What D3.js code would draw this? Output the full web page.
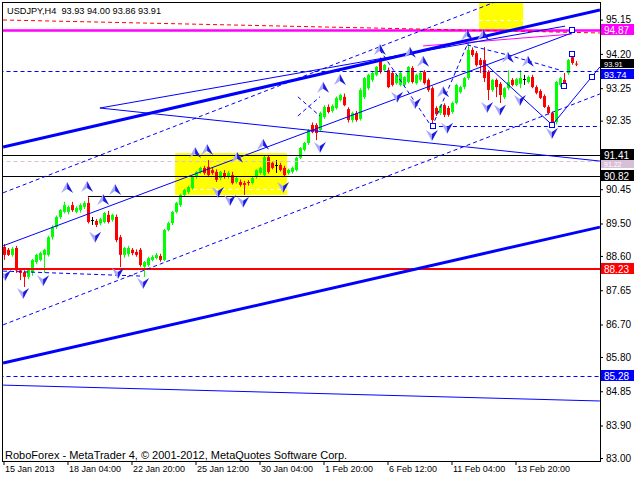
<!DOCTYPE html>
<html><head><meta charset="utf-8">
<script src="https://cdn.jsdelivr.net/npm/d3@7"></script>
<style>
body{margin:0;background:#fff;}
svg{display:block;font-family:"Liberation Sans",Arial,sans-serif;}
</style></head><body>
<svg id="c" width="640" height="480"></svg>
<script>
// ---------- DATA ----------
const titleText = "USDJPY,H4  93.93 94.00 93.86 93.91";
const copyrightText = "RoboForex - MetaTrader 4, \u00a9 2001-2012, MetaQuotes Software Corp.";
const dateLabels = ["15 Jan 2013","18 Jan 04:00","22 Jan 20:00","25 Jan 12:00","30 Jan 04:00","1 Feb 20:00","6 Feb 12:00","11 Feb 04:00","13 Feb 20:00"];
const dateTickIdx = [0,16,32,48,64,80,96,112,128];
const priceTicks = [95.15,94.20,93.25,92.35,90.45,89.50,88.60,87.65,86.70,85.80,84.85,83.90,83.00];

const opens = [88.85,88.77,88.63,88.82,88.20,88.15,88.02,88.15,88.43,88.49,88.63,88.63,89.12,89.40,89.68,89.82,89.82,90.01,89.82,89.87,
89.96,90.07,89.60,89.57,89.50,89.54,89.74,89.60,89.68,89.12,88.63,88.65,88.77,88.71,88.77,88.30,88.35,88.49,88.54,88.60,
88.49,89.32,89.51,89.82,90.01,90.29,90.37,90.48,90.79,90.93,91.04,91.07,90.98,90.93,90.76,90.90,90.79,90.84,90.65,90.65,
90.62,90.65,90.62,90.79,90.90,90.84,91.34,91.18,91.12,91.12,91.04,90.90,90.93,90.98,91.32,91.54,91.73,92.23,92.23,92.09,
92.45,92.73,92.62,92.70,92.92,93.01,92.67,92.37,92.56,92.40,93.00,93.25,93.48,93.62,94.03,93.75,93.75,93.67,93.39,93.34,
93.34,93.42,93.81,93.39,93.48,93.70,93.48,93.25,92.70,92.56,92.78,92.70,92.59,92.84,93.14,93.28,93.53,94.31,94.22,94.03,
94.03,93.70,93.20,93.48,93.37,93.00,93.25,93.48,93.34,93.37,93.50,93.42,93.56,93.28,93.17,93.03,92.73,92.56,92.31,93.34,
93.48,93.67,94.11,93.93];
const highs = [88.93,88.82,88.85,88.88,88.25,88.20,88.25,88.52,88.66,88.72,88.80,89.16,89.45,89.72,89.90,90.10,90.00,90.10,89.98,90.06,
90.12,90.23,89.68,89.62,89.66,89.82,89.85,89.77,89.75,89.18,88.85,88.88,88.82,88.78,88.82,88.46,88.58,88.62,88.68,88.66,
89.35,89.55,89.85,90.10,90.32,90.46,90.55,90.82,90.96,91.07,91.10,91.26,91.05,91.00,90.96,90.98,90.95,90.93,90.80,90.72,
90.68,90.70,90.80,91.00,91.07,91.37,91.40,91.22,91.26,91.18,91.10,91.02,91.08,91.35,91.62,91.76,92.12,92.30,92.28,92.60,
92.78,92.80,92.80,93.02,93.10,93.10,92.72,92.60,92.62,93.25,93.56,93.65,93.70,93.86,94.10,93.92,93.82,93.73,93.65,93.70,
93.58,93.86,93.86,93.65,93.72,93.75,93.52,93.30,92.75,92.80,92.83,92.76,92.88,93.37,93.32,93.56,94.50,94.38,94.28,94.09,
94.39,93.75,93.50,93.52,93.42,93.28,93.75,93.53,93.53,93.75,93.62,93.60,93.62,93.33,93.22,93.08,92.78,92.60,93.45,93.56,
93.67,94.06,94.20,94.00];
const lows = [88.49,88.60,88.58,88.13,87.93,87.74,87.95,88.05,88.38,88.45,88.13,88.58,89.05,89.35,89.62,89.78,89.75,89.82,89.78,89.80,
89.90,89.50,89.46,89.40,89.45,89.50,89.50,89.55,88.98,88.29,88.55,88.58,88.62,88.58,88.30,88.02,88.30,88.45,88.50,88.44,
88.45,89.28,89.46,89.78,89.96,90.24,90.32,90.44,90.74,90.88,90.85,90.80,90.85,90.65,90.70,90.74,90.74,90.58,90.60,90.52,
90.29,90.55,90.58,90.74,90.85,90.80,90.88,91.00,90.90,90.94,90.80,90.85,90.88,90.94,91.28,91.50,91.68,92.00,91.81,92.05,
92.40,92.55,92.57,92.66,92.88,92.75,92.30,92.30,92.32,92.35,92.95,93.20,93.42,93.58,93.65,93.70,93.25,93.30,93.35,93.30,
93.30,93.38,93.38,93.35,93.43,93.35,93.15,92.15,92.48,92.50,92.45,92.46,92.54,92.80,93.10,93.22,93.48,94.12,93.85,93.67,
93.42,92.92,93.15,93.00,92.84,92.95,93.20,93.30,93.30,93.25,93.34,93.38,93.25,93.08,92.95,92.70,92.52,92.17,92.25,93.28,
93.28,93.62,93.90,93.86];
const closes = [88.63,88.63,88.80,88.20,88.13,88.02,88.21,88.49,88.63,88.68,88.77,89.12,89.40,89.68,89.87,90.01,89.96,89.87,89.93,90.01,
90.07,89.54,89.60,89.46,89.62,89.79,89.54,89.74,89.04,88.63,88.82,88.82,88.68,88.63,88.35,88.43,88.54,88.57,88.63,88.49,
89.32,89.51,89.82,90.07,90.29,90.43,90.51,90.79,90.93,91.04,90.90,90.84,90.90,90.71,90.93,90.79,90.90,90.62,90.76,90.57,
90.57,90.62,90.76,90.98,91.04,91.34,90.93,91.04,91.12,90.98,90.84,90.98,91.04,91.32,91.59,91.73,92.09,92.03,92.01,92.56,
92.73,92.59,92.76,92.98,93.06,92.78,92.37,92.56,92.37,93.20,93.53,93.62,93.67,93.84,93.70,93.89,93.28,93.34,93.62,93.67,
93.56,93.84,93.42,93.62,93.67,93.39,93.20,92.37,92.53,92.76,92.51,92.51,92.84,93.34,93.28,93.53,94.31,94.17,93.89,93.89,
93.53,93.20,93.48,93.28,93.06,93.25,93.42,93.34,93.50,93.53,93.50,93.56,93.28,93.12,92.98,92.73,92.56,92.31,93.42,93.53,
93.39,94.03,93.95,93.91];

// horizontal levels (prices)
const magentaLevel = 94.87;
const blueDashLevels = [93.74, 85.28];
const blackLevels = [91.41, 90.82];
const blackShortLevel = {from: 21.1, price: 90.27};
const thistleLevel = 91.22;
const redLevel = 88.23;
const shortDashLevel = {from: 107.1, price: 92.20};
// trend lines: [bar0, price0, bar1, price1]
const redDashTrend = [-0.1, 95.14, 149.1, 94.78];
const thickTrends = [[-0.1, 91.62, 149.1, 95.42], [-0.1, 85.63, 149.1, 89.40]];
const thinTrends = [[24.1, 92.70, 140.4, 94.97], [24.1, 92.70, 149.1, 91.23], [-0.1, 88.88, 142.1, 94.78], [-0.1, 85.02, 149.1, 84.58],
  [119.9, 93.98, 136.9, 92.26], [137.4, 92.26, 149.1, 93.84]];
const dashTrends = [[-0.1, 90.35, 124.1, 95.69], [-0.1, 86.69, 149.1, 93.09], [-0.1, 88.18, 34.9, 88.04],
  [94.1, 94.31, 107.1, 92.17], [107.1, 92.17, 115.9, 94.45], [115.9, 94.45, 126.1, 94.17], [126.1, 94.17, 139.1, 93.75],
  [73.6, 93.01, 79.1, 92.48], [73.6, 92.48, 79.1, 93.01]];
const magentaTrend = [104.9, 94.42, 142.1, 94.75];
const yellowBoxes = [[42.9, 91.45, 70.9, 90.29], [118.9, 95.75, 129.9, 94.86]];
const whiteDashes = [[47.4, 90.46, 70.9], [118.9, 95.14, 129.9]];
const squares = [[107.4, 92.20], [137.1, 92.23], [140.1, 93.31], [142.1, 94.20], [147.1, 93.56], [142.1, 94.86]];
const upArrows = [[15.9,90.48],[20.9,90.51],[24.9,90.15],[27.9,90.43],[47.9,91.45],[50.9,91.54],[58.4,91.32],[64.9,91.68],
  [79.9,93.26],[84.1,93.48],[94.1,94.31],[101.6,94.23],[104.9,93.98],[109.9,93.14],[115.9,94.72],[119.9,94.72],[126.1,94.09],[131.1,93.98]];
const downArrows = [[0.4,88.07],[4.9,87.57],[9.9,87.93],[22.9,89.13],[28.6,88.13],[34.9,87.85],[53.6,90.37],[56.6,90.15],[59.9,90.10],
  [69.9,90.51],[79.1,91.62],[98.4,93.01],[102.9,92.84],[107.1,91.95],[110.9,92.15],[120.9,92.73],[124.1,92.65],[129.1,92.92],[137.1,92.01]];
const priceLabels = [94.87, 93.91, 93.74, 91.22, 91.41, 90.82, 88.23, 85.28];

// ---------- DRAW ----------
const labelFill = ["#ff00ff","#000000","#0000ff","#d8bfd8","#000000","#000000","#ff0000","#0000ff"];
// per-label box [top offset, height, text baseline offset, font size] relative to the level's pixel row
const labelBox = [[-6,11,4,10],[-5,9,2.5,7.5],[-2,10,7,9],[-1,8,6,7],[-6,11,4,10],[-6,11,4,10],[-6,11,4,10],[-6,11,4,10]];
const svg = d3.select("#c");
const x = d3.scaleLinear().domain([0, 1]).range([3.5, 7.5]);
const y = d3.scaleLinear().domain([83, 95.694]).range([458, 0]);

svg.append("rect").attr("width",640).attr("height",480).attr("fill","#fff");
svg.append("defs").append("clipPath").attr("id","plot").append("rect")
  .attr("x",3).attr("y",3).attr("width",597).attr("height",458);
const g = svg.append("g").attr("clip-path","url(#plot)");

yellowBoxes.forEach(b => g.append("rect").attr("x",x(b[0])).attr("y",y(b[1]))
  .attr("width",x(b[2])-x(b[0])).attr("height",y(b[3])-y(b[1])).attr("fill","#ffff00"));
whiteDashes.forEach(d => g.append("line").attr("x1",x(d[0])).attr("x2",x(d[2])).attr("y1",Math.round(y(d[1]))+0.5).attr("y2",Math.round(y(d[1]))+0.5)
  .attr("stroke","#fff").attr("stroke-dasharray","4,3"));

const cg = g.append("g");
opens.forEach((o,i) => {
  const c = closes[i];
  const col = c > o ? "#00ff00" : (c < o ? "#ff0000" : "#000000");
  const cx = Math.round(x(i));
  cg.append("line").attr("x1",cx+0.5).attr("x2",cx+0.5).attr("y1",y(highs[i])).attr("y2",y(lows[i])).attr("stroke",col);
  const yt = y(Math.max(o,c)), yb = y(Math.min(o,c));
  if (c === o) {
    cg.append("line").attr("x1",cx-1).attr("x2",cx+2).attr("y1",Math.round(yt)+0.5).attr("y2",Math.round(yt)+0.5).attr("stroke",col);
  } else {
    cg.append("rect").attr("x",cx-1).attr("y",yt).attr("width",3).attr("height",Math.max(1,yb-yt)).attr("fill",col);
  }
});

function hline(p, from, color, w, dash) {
  const yy = Math.round(y(p)) + (w % 2 ? 0.5 : 0);
  const l = g.append("line").attr("x1",x(from)).attr("x2",600).attr("y1",yy).attr("y2",yy)
    .attr("stroke",color).attr("stroke-width",w);
  if (dash) l.attr("stroke-dasharray",dash);
}
function tline(t, color, w, dash) {
  const l = g.append("line").attr("x1",x(t[0])).attr("y1",y(t[1])).attr("x2",x(t[2])).attr("y2",y(t[3]))
    .attr("stroke",color).attr("stroke-width",w);
  if (dash) l.attr("stroke-dasharray",dash);
}
hline(thistleLevel, -1, "#d8bfd8", 1, "4,3");
blackLevels.forEach(p => hline(p, -1, "#000", 1));
hline(blackShortLevel.price, blackShortLevel.from, "#000", 1);
hline(redLevel, -1, "#ff0000", 2);
blueDashLevels.forEach(p => hline(p, -1, "#0000ff", 1, "4,3"));
hline(shortDashLevel.price, shortDashLevel.from, "#0000ff", 1, "4,3");
hline(magentaLevel, -1, "#ff00ff", 2.5);
tline(redDashTrend, "#ff0000", 1, "4,3");
tline(magentaTrend, "#ff00ff", 1);
dashTrends.forEach(t => tline(t, "#0000ff", 1, "4,3"));
thinTrends.forEach(t => tline(t, "#0000ff", 1));
thickTrends.forEach(t => tline(t, "#0000ff", 3));

const ag = g.append("g");
upArrows.forEach(a => {
  const ax = x(a[0]), ay = y(a[1]);
  ag.append("path").attr("d",`M${ax},${ay-6}L${ax-6},${ay+5}L${ax},${ay+1}Z`).attr("fill","#a8a8ff");
  ag.append("path").attr("d",`M${ax},${ay-6}L${ax+6},${ay+5}L${ax},${ay+1}Z`).attr("fill","#1a1ae0");
});
downArrows.forEach(a => {
  const ax = x(a[0]), ay = y(a[1]);
  ag.append("path").attr("d",`M${ax},${ay+6}L${ax-6},${ay-5}L${ax},${ay-1}Z`).attr("fill","#a8a8ff");
  ag.append("path").attr("d",`M${ax},${ay+6}L${ax+6},${ay-5}L${ax},${ay-1}Z`).attr("fill","#1a1ae0");
});
squares.forEach(s => ag.append("rect").attr("x",Math.round(x(s[0]))-2.5).attr("y",Math.round(y(s[1]))-2.5)
  .attr("width",5).attr("height",5).attr("fill","#fff").attr("stroke","#0000ff"));

svg.append("rect").attr("x",2.5).attr("y",2.5).attr("width",598).attr("height",459)
  .attr("fill","none").attr("stroke","#000");

const ya = svg.append("g").attr("transform","translate(600,0)")
  .call(d3.axisRight(y).tickValues(priceTicks).tickSize(3).tickPadding(3).tickFormat(d3.format(".2f")));
ya.select(".domain").remove();
ya.selectAll("text").attr("font-size",10).attr("font-family","Liberation Sans, Arial").attr("fill","#000");
ya.selectAll("line").attr("stroke","#000");

priceLabels.forEach((p,k) => {
  const yy = Math.round(y(p));
  const b = labelBox[k];
  svg.append("rect").attr("x",601).attr("y",yy+b[0]).attr("width",33).attr("height",b[1]).attr("fill",labelFill[k]);
  svg.append("text").attr("x",604).attr("y",yy+b[2]).attr("font-size",b[3]).attr("fill","#fff").text(d3.format(".2f")(p));
});

const xa = svg.append("g").attr("transform","translate(0,461)")
  .call(d3.axisBottom(x).tickValues(dateTickIdx).tickSize(4).tickFormat((d,k) => dateLabels[k]));
xa.select(".domain").remove();
xa.selectAll("line").attr("stroke","#000");
xa.selectAll("text").attr("text-anchor","start").attr("dx",1).attr("dy","0.4em")
  .attr("font-size",9).attr("font-family","Liberation Sans, Arial").attr("fill","#000");

svg.append("text").attr("x",7).attr("y",14).attr("font-size",9.2).attr("fill","#000")
  .style("white-space","pre").text(titleText);
svg.append("text").attr("x",5).attr("y",459).attr("font-size",11).attr("fill","#000").text(copyrightText);
</script>
</body></html>
